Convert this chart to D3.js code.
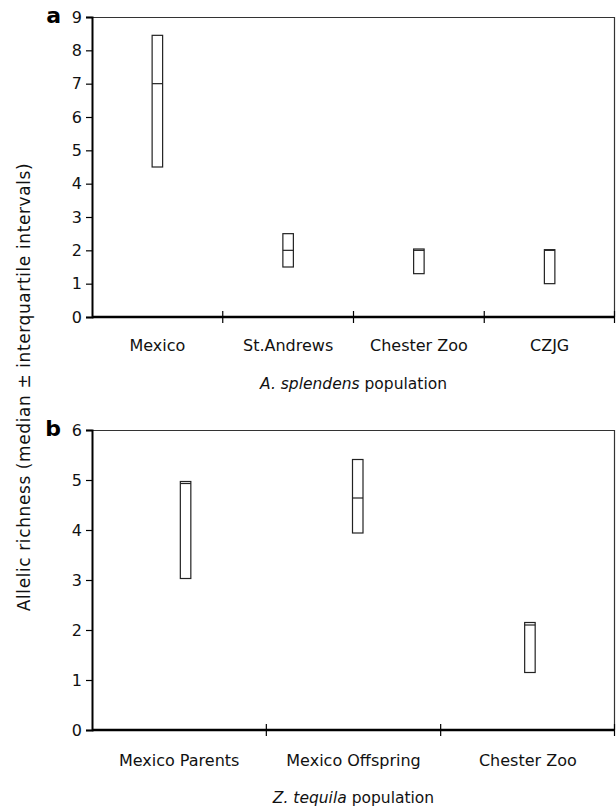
<!DOCTYPE html>
<html>
<head>
<meta charset="utf-8">
<script src="https://cdn.jsdelivr.net/npm/d3@7"></script>
<style>
  body { margin: 0; background: #fff; }
  svg { display: block; font-family: "DejaVu Sans", "Liberation Sans", sans-serif; }
</style>
</head>
<body>
<div id="chart"></div>
<script>
// Panel a - A. splendens
const catsA = ["Mexico", "St.Andrews", "Chester Zoo", "CZJG"];
const q1A = [4.5, 1.5, 1.3, 1.0];
const medA = [7.0, 2.0, 2.0, 2.0];
const q3A = [8.45, 2.5, 2.04, 2.02];
const ticksA = [0, 1, 2, 3, 4, 5, 6, 7, 8, 9];

// Panel b - Z. tequila
const catsB = ["Mexico Parents", "Mexico Offspring", "Chester Zoo"];
const q1B = [3.03, 3.94, 1.15];
const medB = [4.93, 4.64, 2.1];
const q3B = [4.97, 5.41, 2.15];
const ticksB = [0, 1, 2, 3, 4, 5, 6];

const width = 616, height = 812;
const left = 92, right = 615;

const svg = d3.select("#chart").append("svg")
    .attr("width", width)
    .attr("height", height);

function panel(cfg) {
    const g = svg.append("g");
    const x = d3.scaleBand().domain(cfg.cats).range([left, right]);
    // las cajas van un poco corridas respecto a las etiquetas
    const xb = d3.scaleBand().domain(cfg.cats).range([left + cfg.boxInset, right + cfg.boxInset / 7.5]);
    const y = d3.scaleLinear().domain([0, d3.max(cfg.ticks)]).range([cfg.bottom, cfg.top]);

    // marco superior y derecho
    g.append("path")
        .attr("d", `M${left},${cfg.top + 0.5}H${right - 0.5}V${cfg.bottom}`)
        .attr("fill", "none")
        .attr("stroke", "#333")
        .attr("stroke-width", 1.2);

    // eje Y
    g.append("g")
        .attr("transform", `translate(${left},0)`)
        .attr("font-family", null)
        .call(d3.axisLeft(y).tickValues(cfg.ticks).tickSize(6).tickPadding(4).tickFormat(d3.format("d")))
        .attr("font-family", null)
        .attr("font-size", 16)
        .call(a => a.select(".domain").attr("stroke-width", 2))
        .call(a => a.selectAll(".tick line").attr("stroke-width", 1.2))
        .call(a => a.selectAll(".tick text").attr("fill", "#111"));

    // eje X: etiquetas centradas, marcas en los bordes
    g.append("g")
        .attr("transform", `translate(0,${cfg.bottom})`)
        .call(d3.axisBottom(x).tickSize(0).tickPadding(cfg.labelPad))
        .attr("font-family", null)
        .attr("font-size", 16)
        .call(a => a.select(".domain").remove())
        .call(a => a.selectAll(".tick text").attr("fill", "#111"));

    g.append("line")
        .attr("x1", left).attr("x2", right)
        .attr("y1", cfg.bottom).attr("y2", cfg.bottom)
        .attr("stroke", "#000").attr("stroke-width", 2.4);

    const edges = cfg.cats.slice(1).map(c => x(c)).concat([right - 0.5]);
    g.selectAll("line.sep").data(edges).join("line")
        .attr("class", "sep")
        .attr("x1", d => d).attr("x2", d => d)
        .attr("y1", cfg.bottom - 6).attr("y2", cfg.bottom + 6)
        .attr("stroke", "#000").attr("stroke-width", 1.2);

    // cajas (Q1 a Q3) y mediana
    const bw = 10.5;
    const cx = d => xb(d) + xb.bandwidth() / 2;
    const boxes = g.selectAll("g.box").data(cfg.cats).join("g").attr("class", "box");
    boxes.append("rect")
        .attr("x", d => cx(d) - bw / 2)
        .attr("y", (d, i) => y(cfg.q3[i]))
        .attr("width", bw)
        .attr("height", (d, i) => y(cfg.q1[i]) - y(cfg.q3[i]))
        .attr("fill", "#fff")
        .attr("stroke", "#222")
        .attr("stroke-width", 1.2);
    boxes.append("line")
        .attr("x1", d => cx(d) - bw / 2)
        .attr("x2", d => cx(d) + bw / 2)
        .attr("y1", (d, i) => y(cfg.med[i]))
        .attr("y2", (d, i) => y(cfg.med[i]))
        .attr("stroke", "#222")
        .attr("stroke-width", 1.2);

    // letra del panel
    svg.append("text")
        .attr("x", 61).attr("y", cfg.top + 6)
        .attr("text-anchor", "end")
        .attr("font-size", 22)
        .attr("font-weight", "bold")
        .text(cfg.letter);

    // titulo del eje X
    const t = svg.append("text")
        .attr("x", (left + right) / 2)
        .attr("y", cfg.titleY)
        .attr("text-anchor", "middle")
        .attr("font-size", 15.5)
        .attr("fill", "#111");
    t.append("tspan").attr("font-style", "italic").text(cfg.species);
    t.append("tspan").text(" population");
}

panel({ cats: catsA, q1: q1A, med: medA, q3: q3A, ticks: ticksA,
        top: 17, bottom: 317, labelPad: 23, titleY: 389, boxInset: 0,
        letter: "a", species: "A. splendens" });

panel({ cats: catsB, q1: q1B, med: medB, q3: q3B, ticks: ticksB,
        top: 430, bottom: 730, labelPad: 25, titleY: 803, boxInset: 7.5,
        letter: "b", species: "Z. tequila" });

// titulo del eje Y
svg.append("text")
    .attr("transform", "translate(30,387) rotate(-90)")
    .attr("text-anchor", "middle")
    .attr("font-size", 17)
    .attr("letter-spacing", 0.6)
    .attr("fill", "#111")
    .text("Allelic richness (median \u00b1 interquartile intervals)");
</script>
</body>
</html>
